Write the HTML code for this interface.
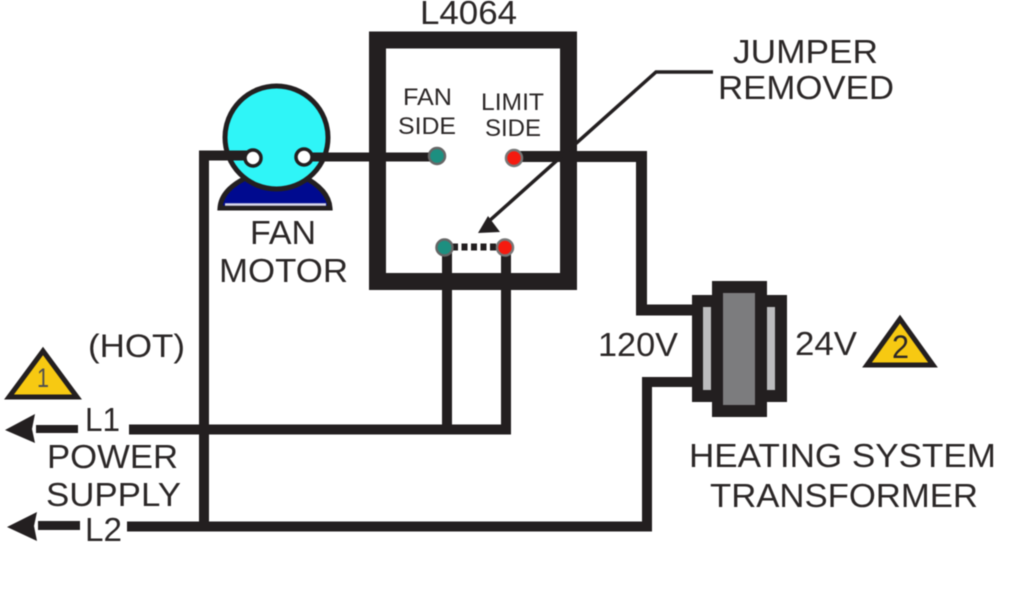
<!DOCTYPE html>
<html>
<head>
<meta charset="utf-8">
<style>
html,body{margin:0;padding:0;background:#fff;width:1024px;height:600px;overflow:hidden}
svg{display:block;filter:blur(0.45px)}
text{font-family:"Liberation Sans",sans-serif;fill:#2b2727}
</style>
</head>
<body>
<svg width="1024" height="600" viewBox="0 0 1024 600" xmlns="http://www.w3.org/2000/svg">
<!-- Wires -->
<g fill="none" stroke="#231f20" stroke-width="10">
<path d="M129 429.5H506V248"/>
<path d="M447 248V429.5"/>
<path d="M127 526.5H647V382H695"/>
<path d="M204 526.5V155.5H250"/>
<path d="M641.5 156.5V310H695" stroke-width="11"/>
<path d="M514 156.5H647" stroke-width="11"/>
<path d="M36 429H78" stroke-width="8"/>
<path d="M38 525.5H80" stroke-width="9"/>
</g>
<polygon points="5,430 35,414 32,429 35,443" fill="#231f20"/>
<polygon points="7,527 37,512 34,526 37,541" fill="#231f20"/>
<!-- Relay box -->
<rect x="377.5" y="40" width="191" height="241.5" fill="none" stroke="#231f20" stroke-width="17"/>
<path d="M304 157H436" fill="none" stroke="#231f20" stroke-width="9"/>
<!-- Motor -->
<path d="M220 208C221 193 234 183 250 176H302C316 183 329 193 330 208Z" fill="#000a8f" stroke="#231f20" stroke-width="5"/>
<path d="M225 204.5H326" stroke="#d8d8ec" stroke-width="2.5"/>
<circle cx="276.5" cy="137.5" r="51.5" fill="#2ff5f7" stroke="#231f20" stroke-width="5"/>
<path d="M204 155.5H250" stroke="#231f20" stroke-width="10" fill="none"/>
<path d="M304 157H372" stroke="#231f20" stroke-width="9" fill="none"/>
<circle cx="253" cy="158" r="8" fill="#fff" stroke="#231f20" stroke-width="3.5"/>
<circle cx="304" cy="157" r="8" fill="#fff" stroke="#231f20" stroke-width="3.5"/>
<!-- Terminals -->
<circle cx="437" cy="156" r="8" fill="#1d8f80" stroke="#666" stroke-width="2.5"/>
<circle cx="514" cy="158" r="8" fill="#f51a0f" stroke="#777" stroke-width="2.5"/>
<path d="M452 247H498" stroke="#231f20" stroke-width="7" stroke-dasharray="6 3.5" fill="none"/>
<circle cx="444.5" cy="247.5" r="8" fill="#1d8f80" stroke="#666" stroke-width="2.5"/>
<circle cx="505" cy="247.5" r="8" fill="#f51a0f" stroke="#777" stroke-width="2.5"/>
<!-- Jumper pointer -->
<path d="M713 72H656L488 222" fill="none" stroke="#231f20" stroke-width="3.5"/>
<polygon points="478,233 488,216 500,232" fill="#231f20"/>
<!-- Transformer -->
<rect x="692" y="295" width="95" height="107" fill="#231f20"/>
<rect x="712" y="281" width="55" height="136" fill="#231f20"/>
<rect x="723" y="293" width="32" height="112" fill="#7c7c7e"/>
<rect x="703" y="307" width="8" height="83" fill="#bcbcbe"/>
<rect x="767" y="307" width="8" height="83" fill="#bcbcbe"/>
<!-- Triangles -->
<polygon points="43,351 9,397 77,397" fill="#f7c912" stroke="#231f20" stroke-width="5"/>
<polygon points="900,319 867,365 933,365" fill="#f7c912" stroke="#231f20" stroke-width="5"/>
<text x="37" y="387" font-size="27" textLength="12" lengthAdjust="spacingAndGlyphs" style="fill:#4f4f4f">1</text>
<text x="892" y="358" font-size="32" textLength="17" lengthAdjust="spacingAndGlyphs">2</text>
<!-- Labels -->
<text x="420" y="24" font-size="33" textLength="97" lengthAdjust="spacingAndGlyphs">L4064</text>
<text x="733" y="63" font-size="33" textLength="145" lengthAdjust="spacingAndGlyphs">JUMPER</text>
<text x="718" y="99" font-size="33" textLength="176" lengthAdjust="spacingAndGlyphs">REMOVED</text>
<text x="403" y="105" font-size="24" textLength="49" lengthAdjust="spacingAndGlyphs">FAN</text>
<text x="398" y="134" font-size="24" textLength="58" lengthAdjust="spacingAndGlyphs">SIDE</text>
<text x="481" y="110" font-size="24" textLength="63" lengthAdjust="spacingAndGlyphs">LIMIT</text>
<text x="485" y="136" font-size="24" textLength="56" lengthAdjust="spacingAndGlyphs">SIDE</text>
<text x="250" y="244" font-size="33" textLength="66" lengthAdjust="spacingAndGlyphs">FAN</text>
<text x="219" y="282" font-size="33" textLength="129" lengthAdjust="spacingAndGlyphs">MOTOR</text>
<text x="88" y="357" font-size="32" textLength="97" lengthAdjust="spacingAndGlyphs">(HOT)</text>
<text x="85" y="431" font-size="33" textLength="35" lengthAdjust="spacingAndGlyphs">L1</text>
<text x="47" y="468" font-size="33" textLength="131" lengthAdjust="spacingAndGlyphs">POWER</text>
<text x="46" y="506" font-size="33" textLength="135" lengthAdjust="spacingAndGlyphs">SUPPLY</text>
<text x="85" y="541" font-size="33" textLength="37" lengthAdjust="spacingAndGlyphs">L2</text>
<text x="598" y="356" font-size="33" textLength="80" lengthAdjust="spacingAndGlyphs">120V</text>
<text x="795" y="355" font-size="33" textLength="62" lengthAdjust="spacingAndGlyphs">24V</text>
<text x="689" y="467" font-size="33" textLength="307" lengthAdjust="spacingAndGlyphs">HEATING SYSTEM</text>
<text x="710" y="507" font-size="33" textLength="268" lengthAdjust="spacingAndGlyphs">TRANSFORMER</text>
</svg>
</body>
</html>
